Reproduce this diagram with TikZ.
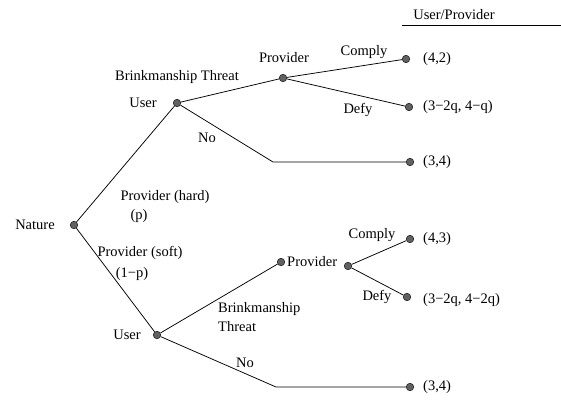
\documentclass[tikz,border=0pt]{standalone}
\usepackage{fontspec}
\setmainfont{Liberation Serif}
\begin{document}
\begin{tikzpicture}[x=1pt,y=-1pt,
  dot/.style={circle,draw=black!85,fill=black!62,inner sep=0pt,minimum size=7.5pt,line width=0.6pt},
  lbl/.style={inner sep=0pt,font=\fontsize{14.5}{16}\selectfont},
  edge/.style={line width=0.75pt}]
\useasboundingbox (0,0) rectangle (561,399);
% header
\node[lbl] (hdr) at (454,15) {User/Provider};
\coordinate (hl) at (402,25);
\coordinate (hr) at (561,25);
\draw[line width=0.8pt] (hl) -- (hr);
% nodes
\node[dot] (nat) at (74,225) {};
\node[dot] (u1) at (177,103) {};
\node[dot] (p1) at (283,78) {};
\node[dot] (l1) at (406,59) {};
\node[dot] (l2) at (409,107) {};
\coordinate (b1) at (273,162);
\node[dot] (l3) at (410,162) {};
\node[dot] (u2) at (157,335) {};
\node[dot] (p2a) at (281,262) {};
\node[dot] (p2) at (348,266) {};
\node[dot] (l4) at (410,239) {};
\node[dot] (l5) at (407,297) {};
\coordinate (b2) at (276,387);
\node[dot] (l6) at (410,387) {};
% edges
\draw[edge] (nat) -- (u1);
\draw[edge] (nat) -- (u2);
\draw[edge] (u1) -- (p1);
\draw[edge] (p1) -- (l1);
\draw[edge] (p1) -- (l2);
\draw[edge] (u1) -- (b1) -- (l3);
\draw[edge] (u2) -- (p2a);
\draw[edge] (p2) -- (l4);
\draw[edge] (p2) -- (l5);
\draw[edge] (u2) -- (b2) -- (l6);
% labels
\node[lbl] (tnat) at (35,225) {Nature};
\node[lbl] (tu1) at (143,103) {User};
\node[lbl] (tp1) at (284,58) {Provider};
\node[lbl] (tbt) at (177,77) {Brinkmanship Threat};
\node[lbl] (tc1) at (364,52) {Comply};
\node[lbl] (td1) at (358,110) {Defy};
\node[lbl] (tno1) at (207,138) {No};
\node[lbl,anchor=west] (r1) at (423,59) {(4,2)};
\node[lbl,anchor=west] (r2) at (423,107) {(3\textminus2q, 4\textminus q)};
\node[lbl,anchor=west] (r3) at (423,162) {(3,4)};
\node[lbl] (th) at (165,197) {Provider (hard)};
\node[lbl] (thp) at (139,216) {(p)};
\node[lbl] (ts) at (140,253) {Provider (soft)};
\node[lbl] (tsp) at (132,274) {(1\textminus p)};
\node[lbl] (tu2) at (127,335) {User};
\node[lbl,anchor=west] (tp2) at (287,262) {Provider};
\node[lbl] (tc2) at (372,235) {Comply};
\node[lbl] (td2) at (377,297) {Defy};
\node[lbl,anchor=west] (tb2) at (218,309) {Brinkmanship};
\node[lbl,anchor=west] (tt2) at (218,327) {Threat};
\node[lbl] (tno2) at (245,363) {No};
\node[lbl,anchor=west] (r4) at (423,239) {(4,3)};
\node[lbl,anchor=west] (r5) at (423,300) {(3\textminus2q, 4\textminus2q)};
\node[lbl,anchor=west] (r6) at (423,387) {(3,4)};
\end{tikzpicture}
\end{document}
